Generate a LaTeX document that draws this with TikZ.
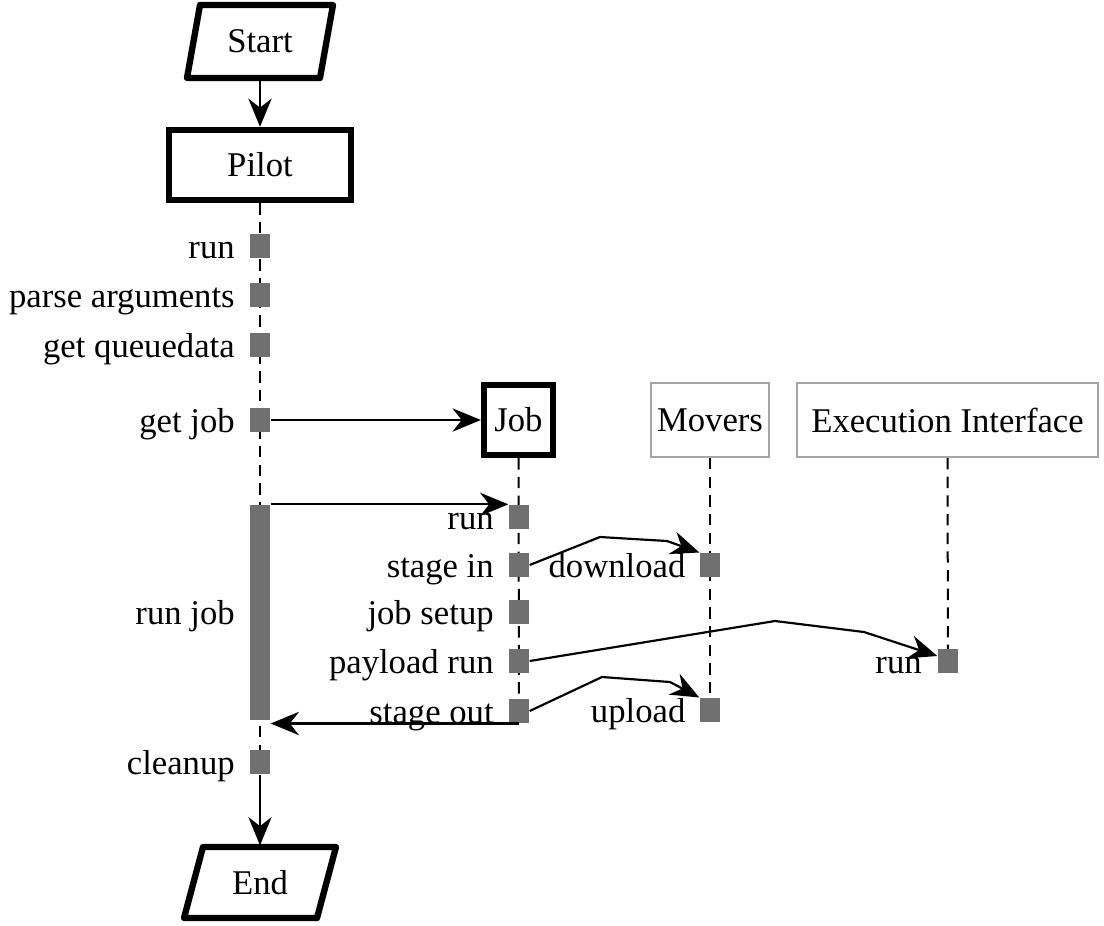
\documentclass[tikz,border=0pt]{standalone}
\usepackage{fontspec}
\setmainfont{Liberation Serif}
\usetikzlibrary{arrows.meta,backgrounds}
\definecolor{actgray}{RGB}{112,112,112}
\definecolor{boxgray}{RGB}{165,165,165}
\begin{document}
\begin{tikzpicture}[x=0.3pt,y=-0.3pt,
  font=\fontsize{10.4}{12}\selectfont,
  act/.style={fill=actgray, draw=none, minimum width=6pt, minimum height=7.1pt, inner sep=0pt},
  lbl/.style={anchor=base east, inner sep=0pt},
  thickbox/.style={draw=black, line width=1.9pt, inner sep=0pt},
  grybox/.style={draw=boxgray, line width=0.6pt, inner sep=0pt, minimum height=22.2pt},
  termtext/.style={inner sep=0pt, minimum width=38pt, minimum height=21.9pt},
  term/.style={draw=black, line width=1.9pt, line join=round},
  arr/.style={draw=black, line width=0.65pt, -{Stealth[length=8.5pt,width=7pt]}},
  life/.style={draw=black, line width=0.6pt, dash pattern=on 3.4pt off 2.2pt}
]
\useasboundingbox (0,0) rectangle (1104,925);

% terminals
\draw[term] (200,5) -- (333,5) -- (320,78) -- (187,78) -- cycle;
\node[termtext] (startn) at (260,41.5) {Start};
\draw[term] (203,847) -- (336,847) -- (317,918) -- (184,918) -- cycle;
\node[termtext] (endn) at (260,882.5) {End};

% participants
\node[thickbox, minimum width=54.6pt, minimum height=21pt] (pilot) at (260,165) {Pilot};
\node[thickbox, minimum width=20.7pt, minimum height=21pt] (job) at (518.5,420) {Job};
\node[grybox, minimum width=35.4pt] (movers) at (710,420) {Movers};
\node[grybox, minimum width=90.3pt] (ei) at (947.5,420) {Execution Interface};

% pilot activations
\node[act] (p1) at (260,246) {};
\node[act] (p2) at (260,295) {};
\node[act] (p3) at (260,345) {};
\node[act] (gj) at (260,420) {};
\node[act, minimum height=64.5pt] (bar) at (260,612.5) {};
\node[act] (cl) at (260,762) {};

\node[lbl] (p1t) at ([xshift=-4.2pt]p1.south west) {run};
\node[lbl] (p2t) at ([xshift=-4.2pt]p2.south west) {parse arguments};
\node[lbl] (p3t) at ([xshift=-4.2pt]p3.south west) {get queuedata};
\node[lbl] (gjt) at ([xshift=-4.2pt]gj.south west) {get job};
\node[lbl] (bart) at ([xshift=-4.2pt,yshift=-3.7pt]bar.west) {run job};
\node[lbl] (clt) at ([xshift=-4.2pt]cl.south west) {cleanup};

% job activations
\node[act] (jr) at (519,517) {};
\node[act] (jsi) at (519,565) {};
\node[act] (jsu) at (519,612) {};
\node[act] (jpr) at (519,661) {};
\node[act] (jso) at (519,711) {};

\node[lbl] (jrt) at ([xshift=-4.2pt]jr.south west) {run};
\node[lbl] (jsit) at ([xshift=-4.2pt]jsi.south west) {stage in};
\node[lbl] (jsut) at ([xshift=-4.2pt]jsu.south west) {job setup};
\node[lbl] (jprt) at ([xshift=-4.2pt]jpr.south west) {payload run};
\node[lbl] (jsot) at ([xshift=-4.2pt]jso.south west) {stage out};

% movers / EI activations
\node[act] (mdl) at (710,565) {};
\node[act] (mul) at (710,710) {};
\node[act] (eir) at (948,661) {};
\node[lbl] (mdlt) at ([xshift=-4pt]mdl.south west) {download};
\node[lbl] (mult) at ([xshift=-4pt]mul.south west) {upload};
\node[lbl] (eirt) at ([xshift=-4.5pt]eir.south west) {run};

% lifelines
\begin{scope}[on background layer]
\draw[life] (pilot.south) -- (cl.center);
\draw[life] (job.south) -- (jso.center);
\draw[life] (movers.south) -- (mul.center);
\draw[life] (ei.south) -- (eir.center);
\end{scope}

% messages
\draw[arr] (startn.south) -- (pilot.north);
\draw[arr] (gj.east) -- (job.west);
\draw[arr] (bar.north east) -- (bar.north east -| jr.west);
\draw[arr] (jso.south) -- (jso.south -| bar.east);
\draw[arr] (jsi.east) -- (600,537) -- (667,541) -- (mdl.north west);
\draw[arr] (jso.east) -- (602,677) -- (670,682) -- (mul.north west);
\draw[arr] (jpr.east) -- (775,621) -- (864,632) -- ([yshift=1.5pt]eir.west);
\draw[arr] (cl.south) -- (endn.north);
\end{tikzpicture}
\end{document}
